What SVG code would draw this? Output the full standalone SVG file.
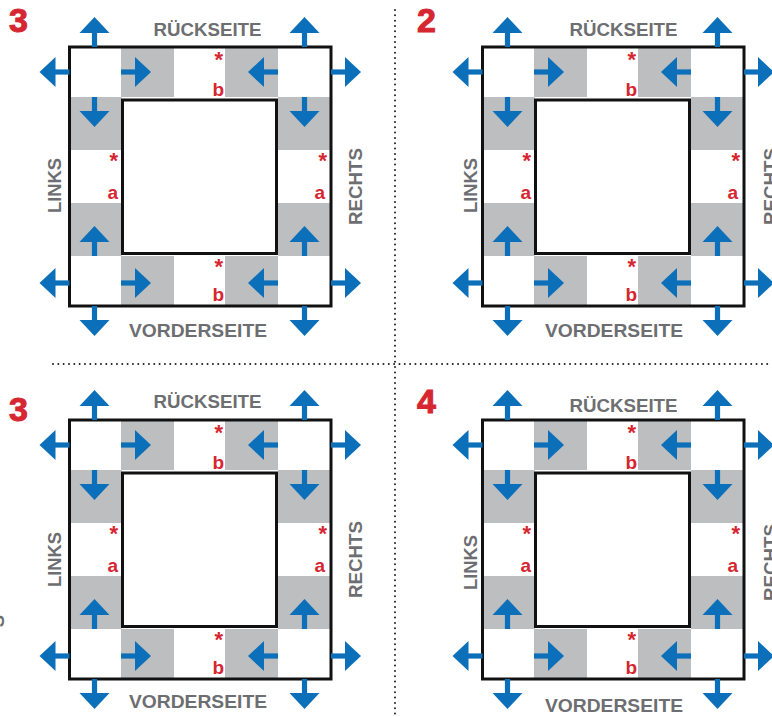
<svg xmlns="http://www.w3.org/2000/svg" xmlns:xlink="http://www.w3.org/1999/xlink" width="772" height="717" viewBox="0 0 772 717">
<style>
.lbl{font-family:"Liberation Sans",Arial,sans-serif;font-weight:bold;font-size:18.5px;fill:#6d6e71;text-anchor:middle}
.num{font-family:"Liberation Sans",Arial,sans-serif;font-weight:bold;font-size:34px;fill:#d62631;stroke:#d62631;stroke-width:1}
.ast{font-family:"Liberation Sans",Arial,sans-serif;font-weight:bold;font-size:22px;fill:#d62631;text-anchor:end}
.let{font-family:"Liberation Sans",Arial,sans-serif;font-weight:bold;font-size:19px;fill:#d62631;text-anchor:end}
.gray{fill:#bcbec0}
.frame{fill:none;stroke:#111;stroke-width:3}
.blue{fill:#0b6fba}
.dots{stroke:#231f20;stroke-width:2;stroke-dasharray:0 5.33;stroke-linecap:round;fill:none}
</style>
<defs>
<g id="ar" class="blue"><rect x="0" y="-2.6" width="15" height="5.2"/><polygon points="14,-15 30,0 14,15"/></g>
<g id="board">
<rect x="69.5" y="47" width="261.5" height="259" fill="#fff"/>
<rect class="gray" x="121" y="47" width="53" height="50"/>
<rect class="gray" x="225" y="47" width="53" height="50"/>
<rect class="gray" x="121" y="256" width="53" height="50"/>
<rect class="gray" x="225" y="256" width="53" height="50"/>
<rect class="gray" x="69.5" y="97" width="52" height="53"/>
<rect class="gray" x="69.5" y="203" width="52" height="53"/>
<rect class="gray" x="278" y="97" width="53" height="53"/>
<rect class="gray" x="278" y="203" width="53" height="53"/>
<rect x="122.5" y="100" width="154" height="153.5" fill="#fff" class="frame"/>
<rect class="frame" x="69.5" y="47" width="261.5" height="259"/>
<use xlink:href="#ar" transform="translate(94.5,47) rotate(-90)"/>
<use xlink:href="#ar" transform="translate(304.5,47) rotate(-90)"/>
<use xlink:href="#ar" transform="translate(69.5,72) rotate(180)"/>
<use xlink:href="#ar" transform="translate(331,72)"/>
<use xlink:href="#ar" transform="translate(69.5,283) rotate(180)"/>
<use xlink:href="#ar" transform="translate(331,283)"/>
<use xlink:href="#ar" transform="translate(94.5,306) rotate(90)"/>
<use xlink:href="#ar" transform="translate(304.5,306) rotate(90)"/>
<use xlink:href="#ar" transform="translate(121,72)"/>
<use xlink:href="#ar" transform="translate(278,72) rotate(180)"/>
<use xlink:href="#ar" transform="translate(121,283)"/>
<use xlink:href="#ar" transform="translate(278,283) rotate(180)"/>
<use xlink:href="#ar" transform="translate(94.5,97) rotate(90)"/>
<use xlink:href="#ar" transform="translate(94.5,256) rotate(-90)"/>
<use xlink:href="#ar" transform="translate(304.5,97) rotate(90)"/>
<use xlink:href="#ar" transform="translate(304.5,256) rotate(-90)"/>
</g>
</defs>
<rect width="772" height="717" fill="#fff"/>
<g id="dividers">
<line class="dots" x1="53" y1="364" x2="772" y2="364"/>
<line class="dots" x1="395" y1="10" x2="395" y2="717"/>
</g>
<g id="panel1">
<use xlink:href="#board"/>
<text class="num" x="9" y="32">3</text>
<text class="lbl" x="207.5" y="36" textLength="108" lengthAdjust="spacingAndGlyphs">RÜCKSEITE</text>
<text class="lbl" x="198" y="337" textLength="138" lengthAdjust="spacingAndGlyphs">VORDERSEITE</text>
<text class="lbl" transform="translate(61,185.5) rotate(-90)" textLength="55" lengthAdjust="spacingAndGlyphs">LINKS</text>
<text class="lbl" transform="translate(362,186.5) rotate(-90)" textLength="77" lengthAdjust="spacingAndGlyphs">RECHTS</text>
<text class="ast" x="223" y="67">*</text><text class="let" x="224" y="96">b</text>
<text class="ast" x="223" y="274">*</text><text class="let" x="224" y="301">b</text>
<text class="ast" x="118" y="168">*</text><text class="let" x="118" y="199">a</text>
<text class="ast" x="327" y="168">*</text><text class="let" x="325" y="199">a</text>
</g>
<g id="panel2" transform="translate(413,0)">
<use xlink:href="#board"/>
<text class="num" x="4" y="32">2</text>
<text class="lbl" x="210.5" y="36" textLength="108" lengthAdjust="spacingAndGlyphs">RÜCKSEITE</text>
<text class="lbl" x="201" y="337" textLength="138" lengthAdjust="spacingAndGlyphs">VORDERSEITE</text>
<text class="lbl" transform="translate(64,185.5) rotate(-90)" textLength="55" lengthAdjust="spacingAndGlyphs">LINKS</text>
<text class="lbl" transform="translate(364,186.5) rotate(-90)" textLength="77" lengthAdjust="spacingAndGlyphs">RECHTS</text>
<text class="ast" x="223" y="67">*</text><text class="let" x="224" y="96">b</text>
<text class="ast" x="223" y="274">*</text><text class="let" x="224" y="301">b</text>
<text class="ast" x="118" y="168">*</text><text class="let" x="118" y="199">a</text>
<text class="ast" x="327" y="168">*</text><text class="let" x="325" y="199">a</text>
</g>
<g id="panel3" transform="translate(0,373)">
<use xlink:href="#board"/>
<text class="num" x="9" y="48">3</text>
<text class="lbl" x="207.5" y="35" textLength="108" lengthAdjust="spacingAndGlyphs">RÜCKSEITE</text>
<text class="lbl" x="198" y="335" textLength="138" lengthAdjust="spacingAndGlyphs">VORDERSEITE</text>
<text class="lbl" transform="translate(61,186.5) rotate(-90)" textLength="55" lengthAdjust="spacingAndGlyphs">LINKS</text>
<text class="lbl" transform="translate(362,186.5) rotate(-90)" textLength="77" lengthAdjust="spacingAndGlyphs">RECHTS</text>
<text class="lbl" transform="translate(4,248) rotate(-90)">S</text>
<text class="ast" x="223" y="67">*</text><text class="let" x="224" y="96">b</text>
<text class="ast" x="223" y="274">*</text><text class="let" x="224" y="301">b</text>
<text class="ast" x="118" y="168">*</text><text class="let" x="118" y="199">a</text>
<text class="ast" x="327" y="168">*</text><text class="let" x="325" y="199">a</text>
</g>
<g id="panel4" transform="translate(413,373)">
<use xlink:href="#board"/>
<text class="num" x="4" y="40">4</text>
<text class="lbl" x="210.5" y="39" textLength="108" lengthAdjust="spacingAndGlyphs">RÜCKSEITE</text>
<text class="lbl" x="201" y="339" textLength="138" lengthAdjust="spacingAndGlyphs">VORDERSEITE</text>
<text class="lbl" transform="translate(64,189.5) rotate(-90)" textLength="55" lengthAdjust="spacingAndGlyphs">LINKS</text>
<text class="lbl" transform="translate(364,189.5) rotate(-90)" textLength="77" lengthAdjust="spacingAndGlyphs">RECHTS</text>
<text class="ast" x="223" y="67">*</text><text class="let" x="224" y="96">b</text>
<text class="ast" x="223" y="274">*</text><text class="let" x="224" y="301">b</text>
<text class="ast" x="118" y="168">*</text><text class="let" x="118" y="199">a</text>
<text class="ast" x="327" y="168">*</text><text class="let" x="325" y="199">a</text>
</g>
</svg>
